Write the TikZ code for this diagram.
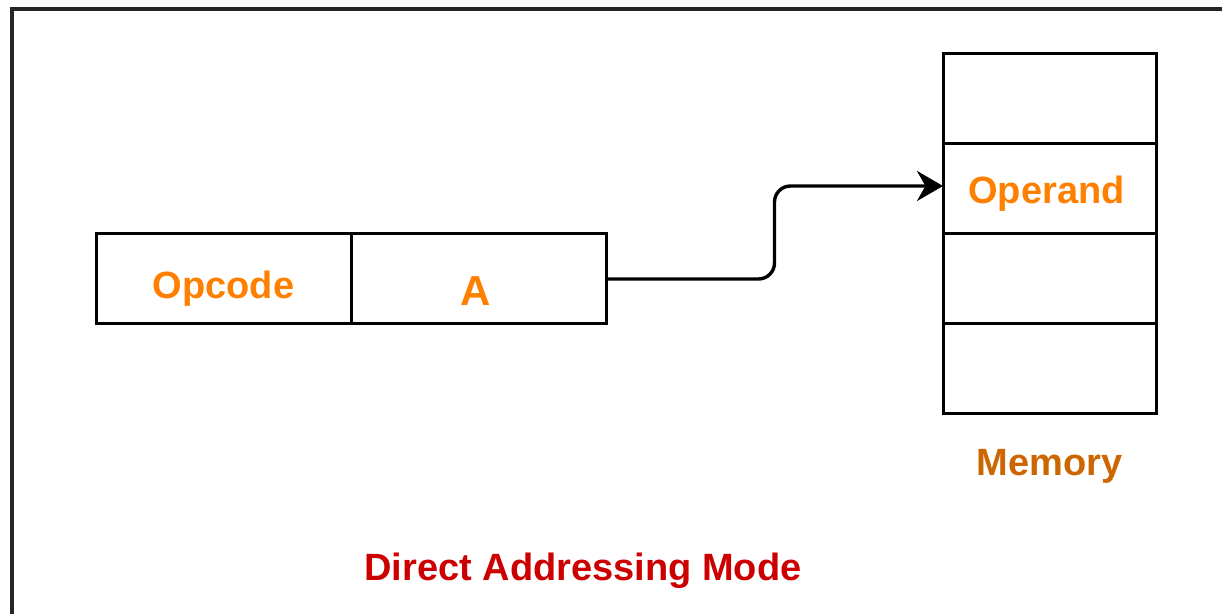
\documentclass[tikz,border=0pt]{standalone}
\usepackage{fontspec}
\setmainfont{Liberation Sans}
\usetikzlibrary{calc,arrows.meta}
\definecolor{corange}{HTML}{FF8000}
\definecolor{cmem}{HTML}{CC6600}
\definecolor{dred}{HTML}{CC0000}
\tikzset{
	every picture/.style={font=\fontsize{19}{19}\selectfont\bfseries,},
	lw/.style={line width=1.5pt,},
	%%%
	field/.style={draw, lw, minimum width=127.5pt, minimum height=45pt, inner sep=0, outer sep=0},
	cell/.style={draw, lw, minimum width=106.5pt, minimum height=45pt, inner sep=0, outer sep=0},
	lbl/.style={text=corange, inner sep=0},
	frame/.style={lw, line width=2pt, black!85},
	conn/.style={lw, line width=1.7pt, rounded corners=8pt, -{Stealth[length=13pt, width=15pt]}},
}
\gdef\Wpic{1222}
\gdef\Hpic{614}

\begin{document}
\begin{tikzpicture}[x=0.5pt, y=-0.5pt]

	\useasboundingbox (0,0) rectangle (\Wpic,\Hpic);

	%%% Frame

	\draw[frame] (12,\Hpic+5) -- (12,9) -- (\Wpic+5,9);

	%%% Instruction

	\node[field, anchor=north west] (op) at (96,234) {};
	\node[field, anchor=west] (ad) at (op.east) {};
	\node[lbl] (opt) at ($(op.center)+(0,10)$) {Opcode};
	\node[lbl, font=\fontsize{21}{21}\selectfont\bfseries] (adt) at ($(ad.center)+(-3,12)$) {A};

	%%% Memory

	\node[cell, anchor=north west] (m1) at (943,54) {};
	\node[cell, anchor=north] (m2) at (m1.south) {};
	\node[cell, anchor=north] (m3) at (m2.south) {};
	\node[cell, anchor=north] (m4) at (m3.south) {};
	\node[lbl] (m2t) at ($(m2.center)+(-3,5)$) {Operand};
	\node[text=cmem, anchor=north] (mem) at ($(m4.south)+(0,28)$) {Memory};

	%%% Arrow

	\coordinate (bend) at ($(ad.east)!0.5!(m2.west)$);
	\draw[conn] (ad.east) -| (bend) |- ($(m2.west)+(0,-3)$);

	%%% Caption

	\node[text=dred] (title) at (583,571) {Direct Addressing Mode};

\end{tikzpicture}
\end{document}
